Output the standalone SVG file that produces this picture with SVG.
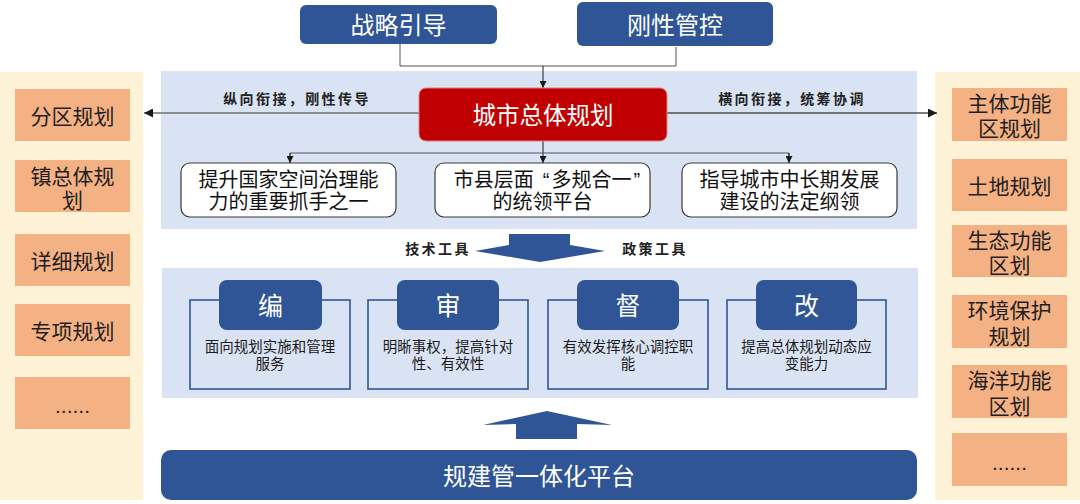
<svg xmlns="http://www.w3.org/2000/svg" width="1080" height="504" viewBox="0 0 1080 504">
<defs>
<marker id="ah" viewBox="0 0 10 10" refX="10" refY="5" markerWidth="7" markerHeight="7" markerUnits="userSpaceOnUse" orient="auto">
<path d="M0,0 L10,5 L0,10 z" fill="#1a1a1a"/>
</marker>
<marker id="ahs" viewBox="0 0 10 10" refX="10" refY="5" markerWidth="9" markerHeight="9" markerUnits="userSpaceOnUse" orient="auto">
<path d="M0,0 L10,5 L0,10 z" fill="#1a1a1a"/>
</marker>
</defs>
<style>
text{font-family:"Liberation Sans","Noto Sans CJK SC",sans-serif;text-anchor:middle;dominant-baseline:central}
.cream{fill:#FEF2D6}
.panel{fill:#DAE3F3}
.org{fill:#F4B183}
.ot{font-size:21px;fill:#1f1f1f}
.blue{fill:#2F5597}
.wt{fill:#ffffff}
.wbox{fill:#ffffff;stroke:#3a3a3a;stroke-width:1.2}
.bt{font-size:20px;fill:#111}
.card{fill:none;stroke:#2F5597;stroke-width:1.6}
.ct{font-size:14.5px;fill:#1a1a1a}
.lab{font-size:14px;fill:#222;letter-spacing:2.4px;font-weight:bold}
.ln{fill:none;stroke:#555;stroke-width:1}
</style>
<rect class="cream" x="0" y="72" width="143" height="428"/>
<rect class="cream" x="935" y="72" width="145" height="428"/>
<rect class="panel" x="161" y="71" width="756" height="158"/>
<rect class="panel" x="162" y="268" width="756" height="130"/>

<g id="connectors">
<polyline class="ln" points="400,44 400,66 676,66 676,47"/>
<line x1="543" y1="66" x2="543" y2="88" stroke="#1a1a1a" stroke-width="1" marker-end="url(#ah)"/>
<line x1="419" y1="113" x2="144" y2="113" stroke="#707070" stroke-width="1.3" marker-end="url(#ahs)"/>
<line x1="667" y1="113" x2="937" y2="113" stroke="#505050" stroke-width="1.3" marker-end="url(#ahs)"/>
<line x1="543" y1="141" x2="543" y2="163" stroke="#1a1a1a" stroke-width="1" marker-end="url(#ah)"/>
<polyline class="ln" points="290,163 290,153 789,153 789,163"/>
<line x1="290" y1="153" x2="290" y2="163" stroke="#1a1a1a" stroke-width="1" marker-end="url(#ah)"/>
<line x1="789" y1="153" x2="789" y2="163" stroke="#1a1a1a" stroke-width="1" marker-end="url(#ah)"/>
<polygon class="blue" points="509,234 570,234 570,245 605,251 540,262 475,251 509,245"/>
<polygon class="blue" points="547,411 612,425 577,424 577,439 516,439 516,424 483,425"/>
</g>

<text class="lab" x="297" y="99">纵向衔接，刚性传导</text>
<text class="lab" x="792" y="99">横向衔接，统筹协调</text>
<text class="lab" x="438" y="249">技术工具</text>
<text class="lab" x="655" y="249">政策工具</text>

<g id="n-zlyd">
<rect class="blue" x="300" y="5" width="197" height="39" rx="6"/>
<text class="wt" x="398.5" y="25.5" font-size="24">战略引导</text>
</g>
<g id="n-gxgk">
<rect class="blue" x="577" y="2" width="196" height="44" rx="6"/>
<text class="wt" x="675" y="25" font-size="24">刚性管控</text>
</g>
<g id="n-cszt">
<rect x="419" y="88" width="248" height="53" rx="7" fill="#C00000" stroke="#E08080" stroke-width="1"/>
<text class="wt" x="543" y="115.5" font-size="23.5">城市总体规划</text>
</g>
<g id="n-b1">
<rect class="wbox" x="181" y="163" width="215" height="54" rx="9"/>
<text class="bt"><tspan x="288.5" y="179.5">提升国家空间治理能</tspan><tspan x="288.5" y="202">力的重要抓手之一</tspan></text>
</g>
<g id="n-b2">
<rect class="wbox" x="435" y="163" width="215" height="54" rx="9"/>
<text class="bt"><tspan x="547" y="179.5">市县层面<tspan dx="9">“</tspan><tspan dx="2">多规合一</tspan><tspan dx="2">”</tspan></tspan><tspan x="542.5" y="202">的统领平台</tspan></text>
</g>
<g id="n-b3">
<rect class="wbox" x="682" y="163" width="215" height="54" rx="9"/>
<text class="bt"><tspan x="789.5" y="179.5">指导城市中长期发展</tspan><tspan x="789.5" y="202">建设的法定纲领</tspan></text>
</g>

<g id="n-bian">
<rect class="card" x="190" y="300" width="160" height="89"/>
<rect class="blue" x="219" y="280" width="103" height="50" rx="8"/>
<text class="wt" x="270.5" y="306" font-size="25">编</text>
<text class="ct"><tspan x="270" y="346.5">面向规划实施和管理</tspan><tspan x="270" y="363.5">服务</tspan></text>
</g>
<g id="n-shen">
<rect class="card" x="368" y="300" width="160" height="89"/>
<rect class="blue" x="397" y="280" width="102" height="50" rx="8"/>
<text class="wt" x="448" y="306" font-size="25">审</text>
<text class="ct"><tspan x="448" y="346.5">明晰事权，提高针对</tspan><tspan x="448" y="363.5">性、有效性</tspan></text>
</g>
<g id="n-du">
<rect class="card" x="548" y="300" width="160" height="89"/>
<rect class="blue" x="577" y="280" width="102" height="50" rx="8"/>
<text class="wt" x="628" y="306" font-size="25">督</text>
<text class="ct"><tspan x="628" y="346.5">有效发挥核心调控职</tspan><tspan x="628" y="363.5">能</tspan></text>
</g>
<g id="n-gai">
<rect class="card" x="727" y="300" width="159" height="89"/>
<rect class="blue" x="756" y="280" width="101" height="50" rx="8"/>
<text class="wt" x="806.5" y="306" font-size="25">改</text>
<text class="ct"><tspan x="806.5" y="346.5">提高总体规划动态应</tspan><tspan x="806.5" y="363.5">变能力</tspan></text>
</g>

<g id="n-platform">
<rect class="blue" x="161" y="450" width="756" height="50" rx="10"/>
<text class="wt" x="539" y="476" font-size="24">规建管一体化平台</text>
</g>

<g id="n-l1"><rect class="org" x="15" y="89" width="115" height="52"/><text class="ot" x="72.5" y="116">分区规划</text></g>
<g id="n-l2"><rect class="org" x="15" y="160" width="115" height="52"/><text class="ot"><tspan x="72.5" y="176">镇总体规</tspan><tspan x="72.5" y="200">划</tspan></text></g>
<g id="n-l3"><rect class="org" x="15" y="234" width="115" height="52"/><text class="ot" x="72.5" y="261">详细规划</text></g>
<g id="n-l4"><rect class="org" x="15" y="304" width="115" height="52"/><text class="ot" x="72.5" y="331">专项规划</text></g>
<g id="n-l5"><rect class="org" x="15" y="377" width="115" height="52"/><text class="ot" x="72.5" y="405" font-size="14">......</text></g>

<g id="n-r1"><rect class="org" x="952" y="88" width="115" height="53"/><text class="ot"><tspan x="1009.5" y="103">主体功能</tspan><tspan x="1009.5" y="128">区规划</tspan></text></g>
<g id="n-r2"><rect class="org" x="952" y="159" width="115" height="52"/><text class="ot" x="1009.5" y="186">土地规划</text></g>
<g id="n-r3"><rect class="org" x="952" y="225" width="115" height="52"/><text class="ot"><tspan x="1009.5" y="240">生态功能</tspan><tspan x="1009.5" y="265">区划</tspan></text></g>
<g id="n-r4"><rect class="org" x="952" y="295" width="115" height="53"/><text class="ot"><tspan x="1009.5" y="310">环境保护</tspan><tspan x="1009.5" y="336">规划</tspan></text></g>
<g id="n-r5"><rect class="org" x="952" y="365" width="115" height="53"/><text class="ot"><tspan x="1009.5" y="380">海洋功能</tspan><tspan x="1009.5" y="406">区划</tspan></text></g>
<g id="n-r6"><rect class="org" x="952" y="433" width="115" height="53"/><text class="ot" x="1009.5" y="462" font-size="14">......</text></g>
</svg>
